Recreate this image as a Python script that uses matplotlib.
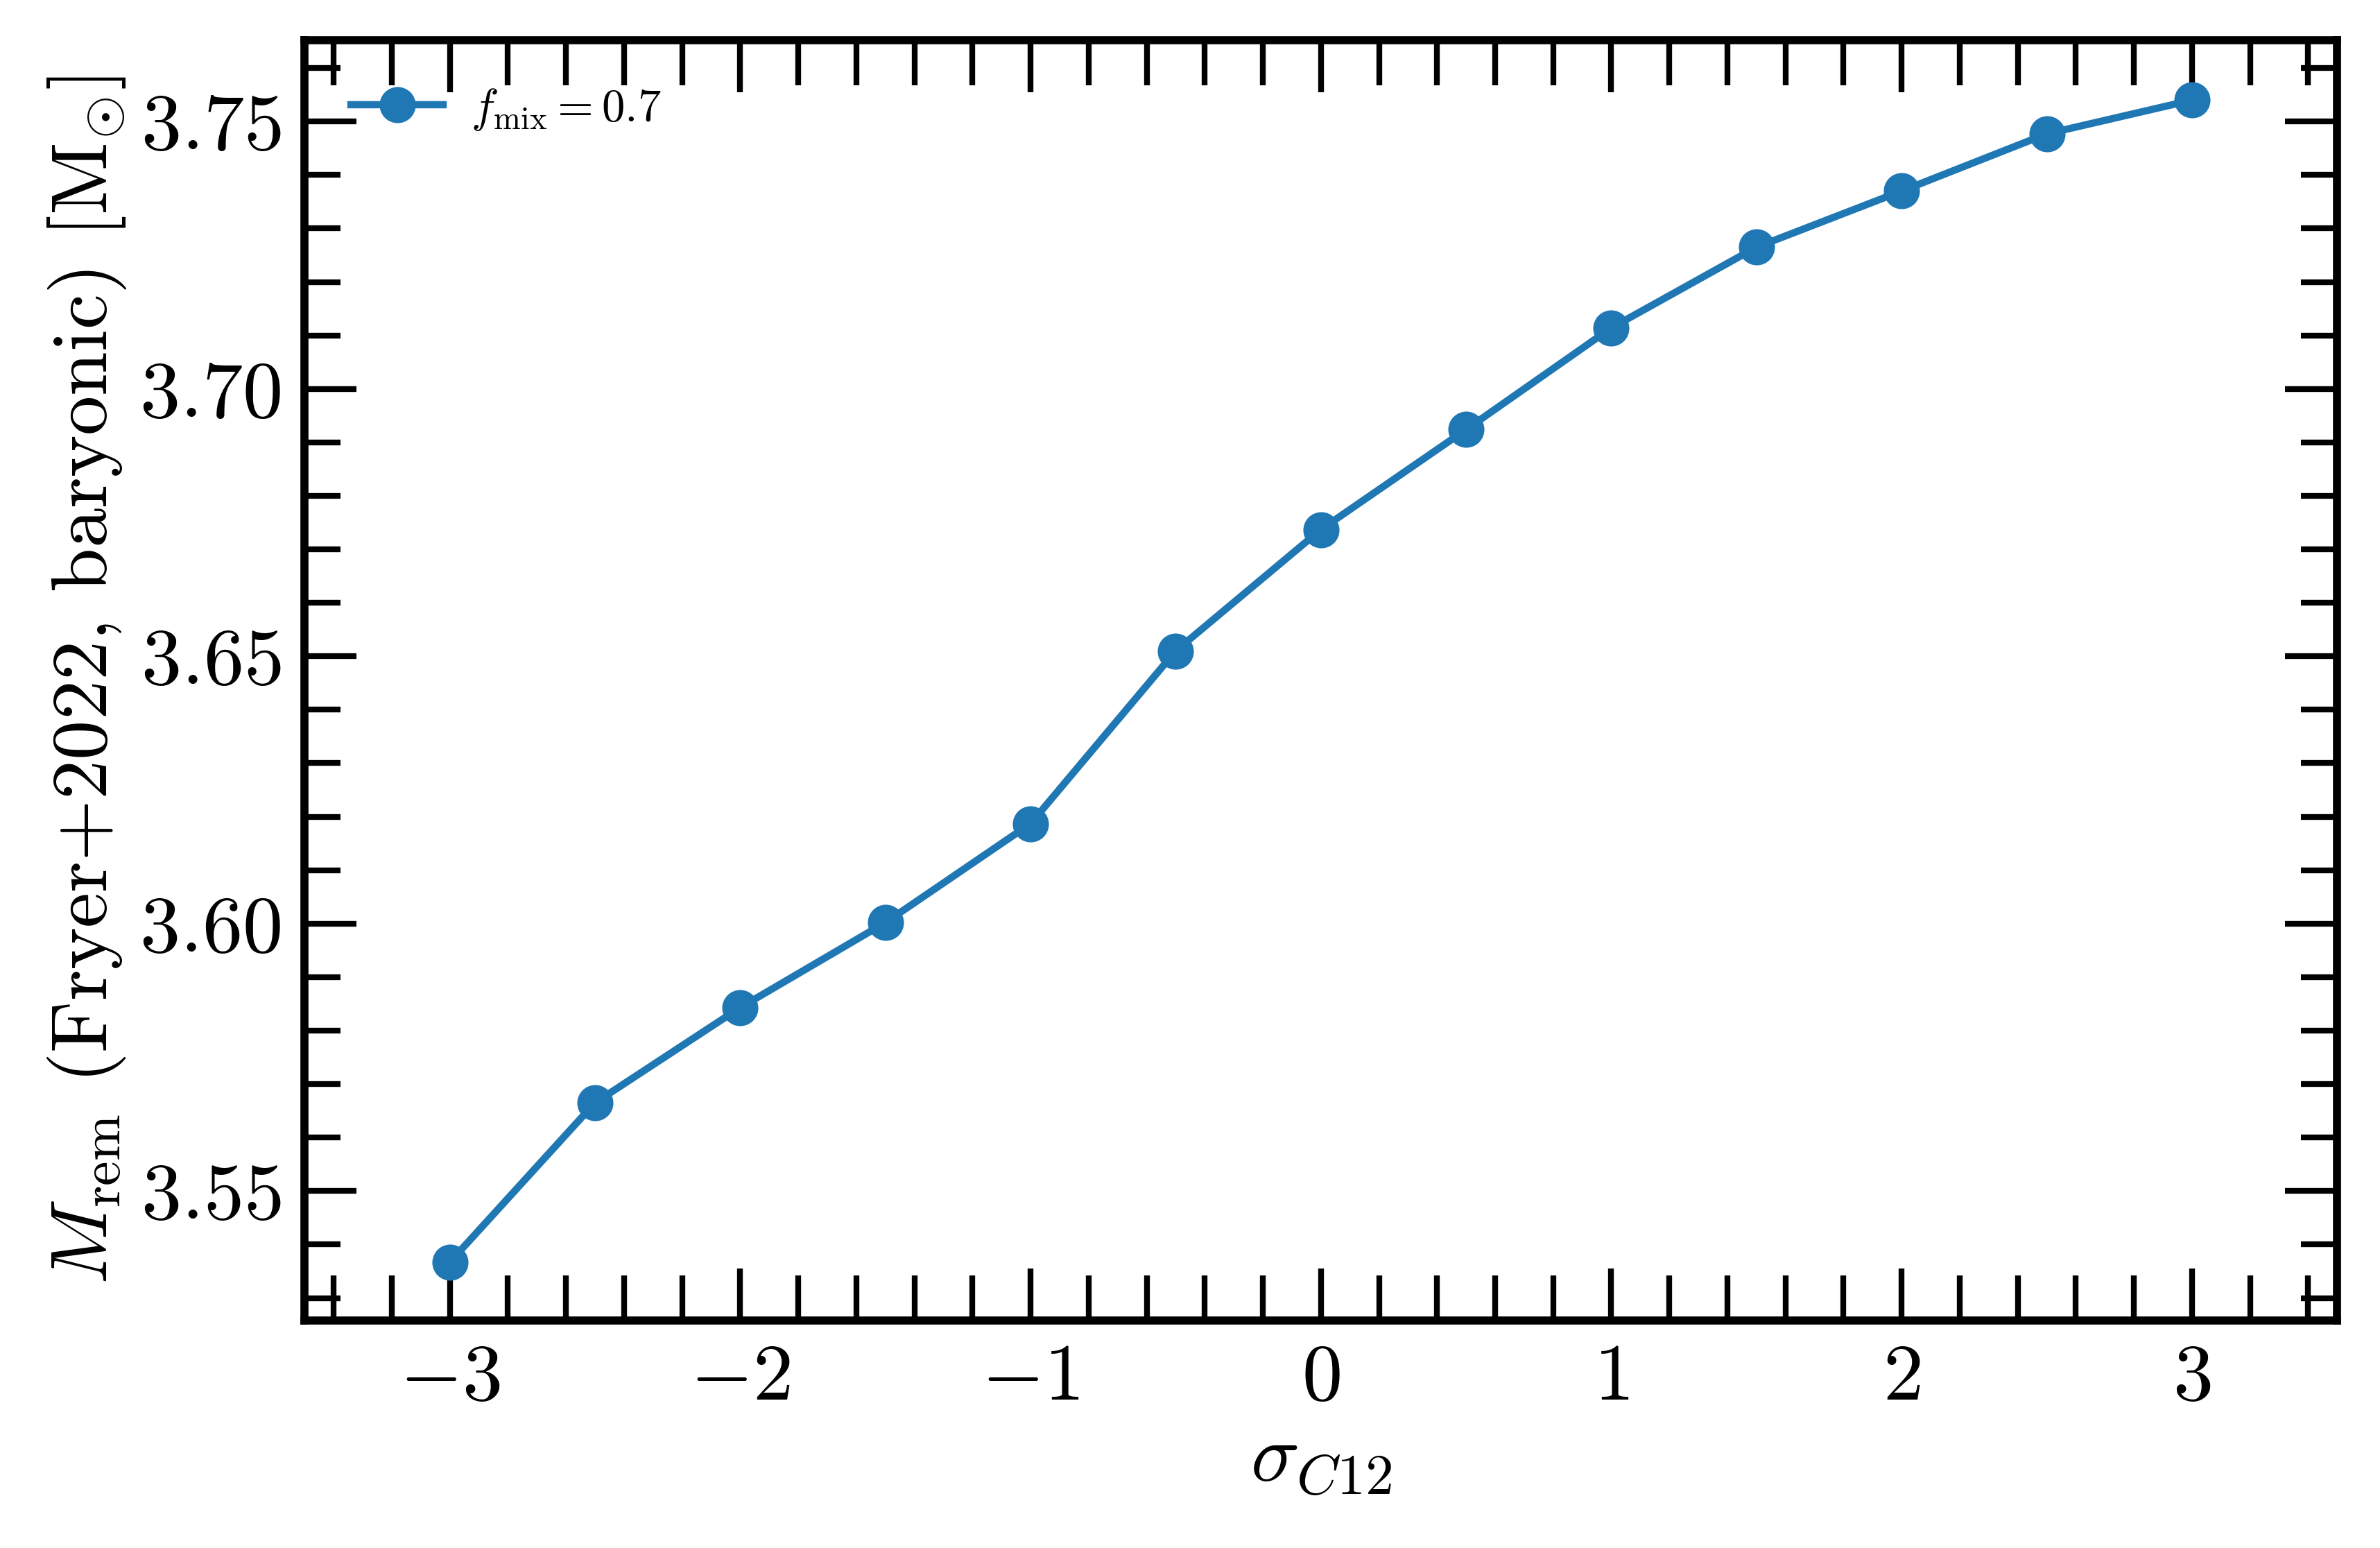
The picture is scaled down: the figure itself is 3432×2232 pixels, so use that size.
import numpy as np
import matplotlib
matplotlib.use('Agg')
import matplotlib.pyplot as plt
from matplotlib.ticker import MultipleLocator, FormatStrFormatter

plt.rcParams['font.family'] = 'serif'
plt.rcParams['font.serif'] = ['cmr10']
plt.rcParams['mathtext.fontset'] = 'cm'
plt.rcParams['axes.formatter.use_mathtext'] = True

# sigma_C12 offsets and remnant masses
sigma_c12 = [-3.0, -2.5, -2.0, -1.5, -1.0, -0.5, 0.0, 0.5, 1.0, 1.5, 2.0, 2.5, 3.0]
m_rem = [3.5367, 3.5665, 3.5843, 3.6002, 3.6187, 3.6510, 3.6737,
         3.6924, 3.7114, 3.7265, 3.7370, 3.7477, 3.7540]
f_mix = 0.7

fig = plt.figure(figsize=(11.44, 7.44), dpi=300)
ax = fig.add_axes([0.128, 0.147, 0.854, 0.827])

ax.plot(sigma_c12, m_rem, color='#1f77b4', lw=2.5, marker='o', ms=11.5,
        label=r'$f_{\rm mix} = %.1f$' % f_mix)

ax.set_xlim(-3.5, 3.5)
ax.set_ylim(3.5258, 3.7652)

ax.xaxis.set_major_locator(MultipleLocator(1))
ax.xaxis.set_minor_locator(MultipleLocator(0.2))
ax.yaxis.set_major_locator(MultipleLocator(0.05))
ax.yaxis.set_minor_locator(MultipleLocator(0.01))
ax.yaxis.set_major_formatter(FormatStrFormatter('$%.2f$'))

ax.tick_params(which='both', direction='in', top=True, right=True, width=2.0, labelsize=28, pad=8)
ax.tick_params(axis='x', which='major', length=18)
ax.tick_params(axis='x', which='minor', length=15.5)
ax.tick_params(axis='y', which='major', length=18)
ax.tick_params(axis='y', which='minor', length=12.5)
for s in ax.spines.values():
    s.set_linewidth(2.8)

ax.set_xlabel(r'$\sigma_{C12}$', fontsize=28)
ax.set_ylabel(r'$M_{\rm rem}$ (Fryer+2022, baryonic) $[{\rm M}_{\odot}]$', fontsize=27.5)

ax.legend(loc='upper left', frameon=False, fontsize=16, borderaxespad=0.6,
          handlelength=2.0, handletextpad=0.6)

fig.savefig('out.png', dpi=300)
